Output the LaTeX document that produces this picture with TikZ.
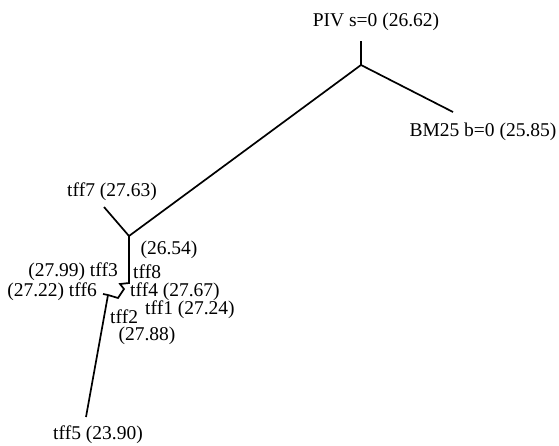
\documentclass[tikz,border=0pt]{standalone}
\usepackage{fontspec}
\setmainfont{Liberation Serif}
\begin{document}
\begin{tikzpicture}[x=1pt,y=-1pt,
  lbl/.style={inner sep=0pt,font=\fontsize{19.5}{22}\selectfont},
  br/.style={line width=1.7pt,line join=miter}]
\useasboundingbox (0,0) rectangle (559,445);
% junctions / leaf ends
\coordinate (pivend) at (361,41);
\coordinate (j1) at (361,65);
\coordinate (bmend) at (453,112);
\coordinate (j2) at (129,236);
\coordinate (t7end) at (104,207);
\coordinate (a) at (129,283);
\coordinate (b) at (120,284);
\coordinate (c) at (124,289);
\coordinate (d) at (118,298);
\coordinate (e) at (108,295);
\coordinate (t6end) at (103,294);
\coordinate (t5end) at (86,417);
% branches
\draw[br] (pivend) -- (j1);
\draw[br] (j1) -- (bmend);
\draw[br] (j1) -- (j2);
\draw[br] (j2) -- (t7end);
\draw[br] (j2) -- (a) -- (b) -- (c) -- (d) -- (e) -- (t6end);
\draw[br] (e) -- (t5end);
% labels
\node[lbl] (piv) at (376,22) {PIV s=0 (26.62)};
\node[lbl] (bm) at (483,132) {BM25 b=0 (25.85)};
\node[lbl] (t7) at (112,192) {tff7 (27.63)};
\node[lbl] (n2654) at (169,250) {(26.54)};
\node[lbl,anchor=east] (t3) at (118,272) {(27.99) tff3};
\node[lbl,anchor=west] (t8) at (133,272) {tff8};
\node[lbl,anchor=east] (t6) at (97,292) {(27.22) tff6};
\node[lbl,anchor=west] (t4) at (130,292) {tff4 (27.67)};
\node[lbl,anchor=west] (t1) at (145,310) {tff1 (27.24)};
\node[lbl,anchor=west] (t2) at (110,317) {tff2};
\node[lbl] (n2788) at (147,336) {(27.88)};
\node[lbl] (t5) at (98,435) {tff5 (23.90)};
\end{tikzpicture}
\end{document}
